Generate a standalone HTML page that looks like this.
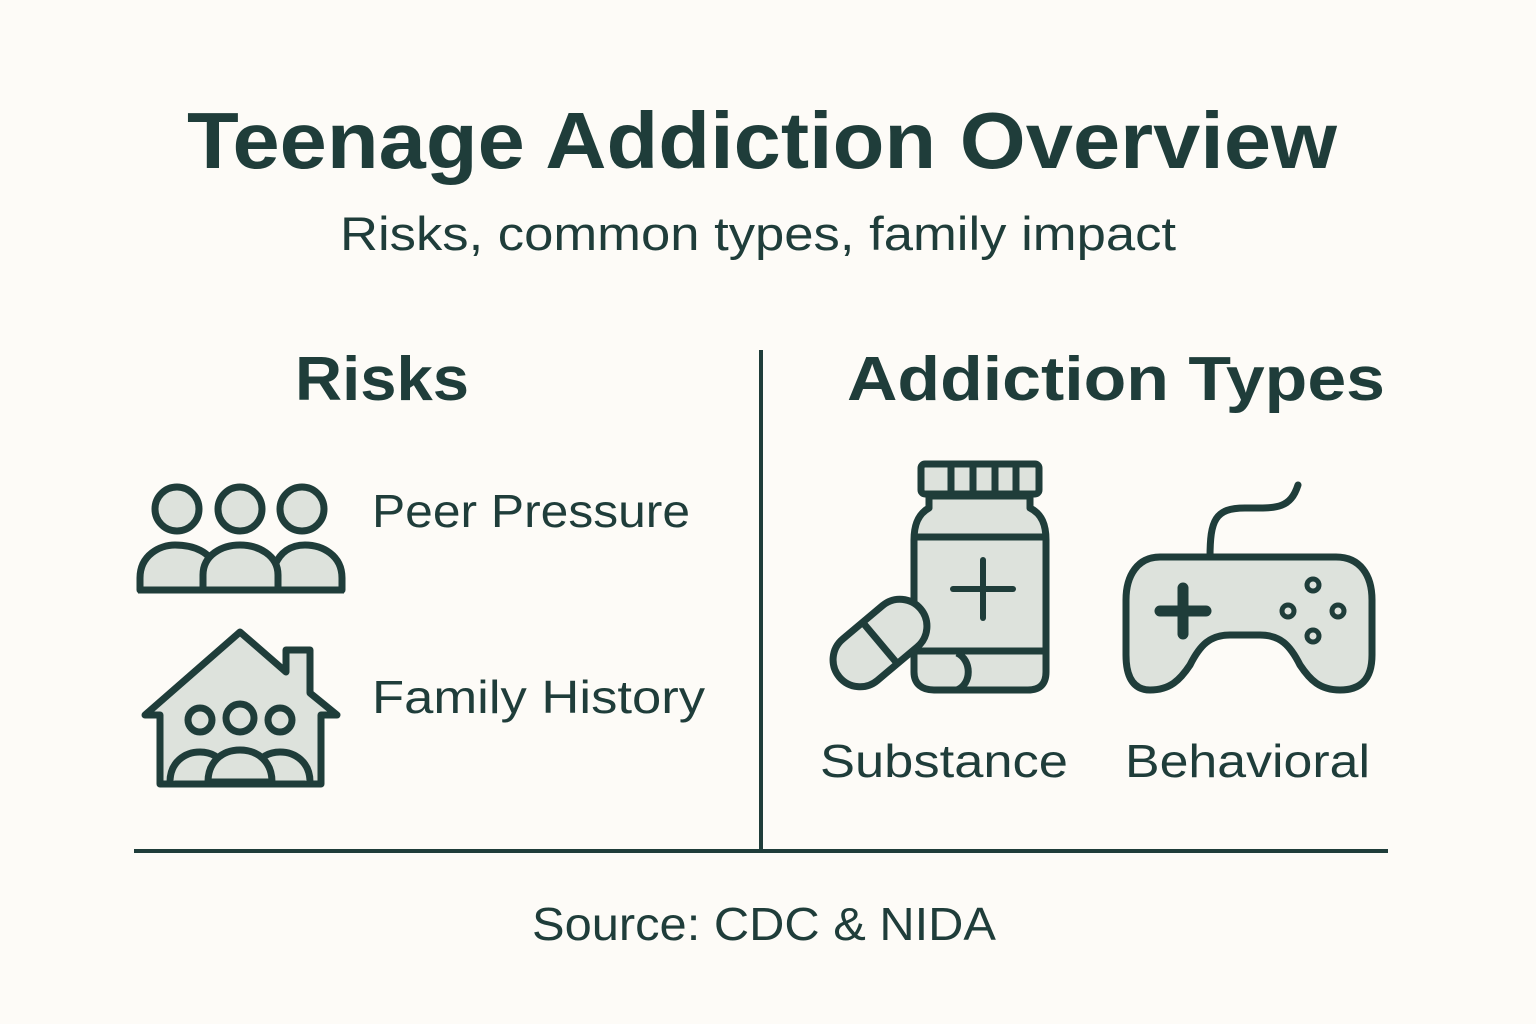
<!DOCTYPE html>
<html><head><meta charset="utf-8"><style>
html,body{margin:0;padding:0;background:#fdfbf7;}
svg{display:block}
text{font-family:"Liberation Sans",sans-serif;fill:#1f3d3a}
</style></head><body>
<svg width="1536" height="1024" viewBox="0 0 1536 1024">
<rect width="1536" height="1024" fill="#fdfbf7"/>
<text x="762" y="168" font-size="80" font-weight="bold" text-anchor="middle" textLength="1150" lengthAdjust="spacingAndGlyphs">Teenage Addiction Overview</text>
<text x="758" y="250" font-size="47" text-anchor="middle" textLength="836" lengthAdjust="spacingAndGlyphs">Risks, common types, family impact</text>
<text x="382" y="400" font-size="62" font-weight="bold" text-anchor="middle" textLength="174" lengthAdjust="spacingAndGlyphs">Risks</text>
<text x="1116" y="400" font-size="62" font-weight="bold" text-anchor="middle" textLength="538" lengthAdjust="spacingAndGlyphs">Addiction Types</text>
<text x="372" y="527" font-size="46" textLength="318" lengthAdjust="spacingAndGlyphs">Peer Pressure</text>
<text x="372" y="713" font-size="46" textLength="333" lengthAdjust="spacingAndGlyphs">Family History</text>
<text x="820" y="777" font-size="46" textLength="248" lengthAdjust="spacingAndGlyphs">Substance</text>
<text x="1125" y="777" font-size="46" textLength="245" lengthAdjust="spacingAndGlyphs">Behavioral</text>
<text x="764" y="940" font-size="46" text-anchor="middle" textLength="464" lengthAdjust="spacingAndGlyphs">Source: CDC &amp; NIDA</text>
<line x1="761" y1="350" x2="761" y2="850" stroke="#1f3d3a" stroke-width="4"/>
<line x1="134" y1="851" x2="1388" y2="851" stroke="#1f3d3a" stroke-width="4"/>
<g fill="#dde2dc" stroke="#1f3d3a" stroke-width="7" stroke-linejoin="round">
<!-- people -->
<circle cx="177" cy="509" r="22"/><circle cx="240" cy="509" r="22"/><circle cx="302" cy="509" r="22"/>
<path d="M140 590 L140 578 C140 555 160 545 175 545 C195 545 210 553 214 565 L214 590 Z"/>
<path d="M275 590 L275 565 C280 553 290 545 305 545 C322 545 342 555 342 578 L342 590 Z"/>
<path d="M203 590 L203 575 C203 555 222 545 240 545 C258 545 278 555 278 575 L278 590 Z"/>
<line x1="138" y1="590" x2="344" y2="590"/>
<!-- house -->
<path d="M240 632 L286 672 L286 650 L310 650 L310 693 L337 715 L321 715 L321 784 L160 784 L160 715 L145 715 Z"/>
<circle cx="200" cy="720" r="12"/><circle cx="240" cy="718" r="14"/><circle cx="280" cy="720" r="12"/>
<path d="M170 782 C170 762 185 752 200 752 C212 752 220 758 224 765"/>
<path d="M256 765 C260 758 268 752 280 752 C295 752 310 762 310 782"/>
<path d="M208 782 C208 762 222 750 240 750 C258 750 272 762 272 782 Z"/>
<!-- bottle -->
<rect x="921" y="464" width="118" height="30" rx="4"/>
<line x1="951" y1="466" x2="951" y2="492"/><line x1="973" y1="466" x2="973" y2="492"/><line x1="995" y1="466" x2="995" y2="492"/><line x1="1016" y1="466" x2="1016" y2="492"/>
<path d="M929 496 L929 508 C918 514 914 525 914 540 L914 672 C914 684 922 690 934 690 L1028 690 C1040 690 1046 684 1046 672 L1046 540 C1046 525 1042 514 1030 508 L1030 496 Z"/>
<line x1="914" y1="537" x2="1046" y2="537"/><line x1="914" y1="651" x2="1046" y2="651"/>
<path d="M957 653 C972 660 972 684 957 690" fill="none"/>
<g transform="rotate(-40 880 643)"><rect x="827" y="616" width="106" height="54" rx="27"/><line x1="880" y1="616" x2="880" y2="670"/></g>
<!-- controller -->
<path d="M1210 558 C1210 520 1215 508 1245 508 C1275 508 1290 510 1298 485" fill="none" stroke-linecap="round"/>
<path d="M1160 557 L1336 557 C1360 557 1372 575 1372 600 L1372 655 C1372 680 1360 690 1340 690 C1320 690 1310 680 1300 665 C1290 645 1280 635 1260 635 L1230 635 C1210 635 1200 645 1190 665 C1180 680 1170 690 1150 690 C1132 690 1126 675 1126 655 L1126 600 C1126 575 1138 557 1160 557 Z"/>
<circle cx="1313" cy="585" r="6" stroke-width="5"/><circle cx="1288" cy="611" r="6" stroke-width="5"/><circle cx="1338" cy="611" r="6" stroke-width="5"/><circle cx="1313" cy="636" r="6" stroke-width="5"/>
</g>
<g stroke="#1f3d3a" stroke-linecap="round">
<line x1="983" y1="560" x2="983" y2="618" stroke-width="6"/><line x1="953" y1="589" x2="1013" y2="589" stroke-width="6"/>
<line x1="1183" y1="588" x2="1183" y2="634" stroke-width="11"/><line x1="1160" y1="611" x2="1206" y2="611" stroke-width="11"/>
</g>
</svg>
</body></html>
